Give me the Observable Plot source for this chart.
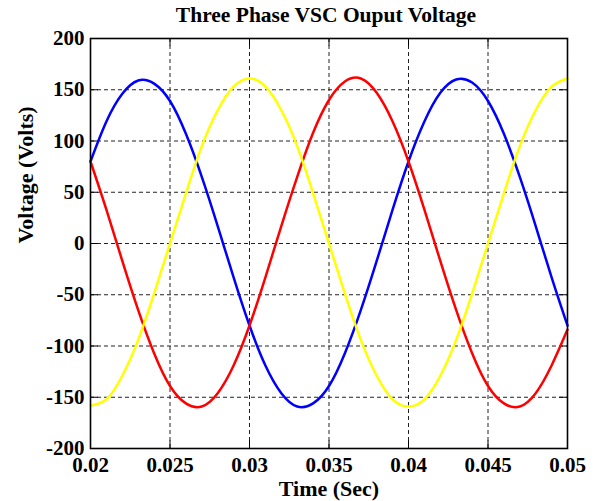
<!DOCTYPE html>
<html>
<head>
<meta charset="utf-8">
<script src="https://cdn.jsdelivr.net/npm/d3@7"></script>
<script src="https://cdn.jsdelivr.net/npm/@observablehq/plot@0.6"></script>
<style>
  body { margin: 0; background: #fff; width: 598px; height: 501px; overflow: hidden; }
  #title { height: 24px; width: 598px; box-sizing: border-box; padding-left: 54px; text-align: center;
    font-family: "Liberation Serif", "Times New Roman", serif; font-weight: bold; font-size: 21.5px;
    line-height: 31px; color: #000; white-space: nowrap; overflow: visible; position: relative; z-index: 1; }
  svg { display: block; }
</style>
</head>
<body>
<div id="title">Three Phase VSC Ouput Voltage</div>
<div id="chart"></div>
<script>
// time samples (seconds)
const time = [0.020,0.021,0.022,0.023,0.024,0.025,0.026,0.027,0.028,0.029,
              0.030,0.031,0.032,0.033,0.034,0.035,0.036,0.037,0.038,0.039,
              0.040,0.041,0.042,0.043,0.044,0.045,0.046,0.047,0.048,0.049,0.050];
// phase voltages (volts)
const blue   = [80,119,146,159,156,139,107,65,17,-33,
                -80,-119,-146,-159,-156,-139,-107,-65,-17,33,
                80,119,147,160,157,139,107,65,17,-33,-80];
const red    = [80,33,-17,-65,-107,-139,-156,-159,-146,-119,
                -80,-33,17,65,108,140,158,161,147,119,
                80,33,-17,-65,-107,-139,-156,-159,-146,-119,-84];
const yellow = [-158,-152,-129,-94,-49,0,49,95,130,153,
                161,153,130,95,49,0,-49,-94,-129,-152,
                -159,-152,-129,-94,-49,0,49,95,130,153,161];
const xTicks = [0.02,0.025,0.03,0.035,0.04,0.045,0.05];
const yTicks = [-200,-150,-100,-50,0,50,100,150,200];
const seriesNames = ["Phase A","Phase B","Phase C"];
const seriesColors = ["#0000ff","#ff0000","#ffff00"];

const rows = [];
[blue, red, yellow].forEach((vals, s) => {
  vals.forEach((v, i) => rows.push({t: time[i], v, series: seriesNames[s]}));
});

const font = '"Liberation Serif", "Times New Roman", serif';
const gridStyle = {stroke: "#222", strokeOpacity: 1, strokeDasharray: "4,3", strokeWidth: 1};
const chart = Plot.plot({
  width: 598,
  height: 477,
  marginTop: 14,
  marginBottom: 53,
  marginLeft: 90,
  marginRight: 31,
  style: {fontFamily: font, fontWeight: "bold", fontSize: "21px", color: "#000", background: "transparent"},
  x: {domain: [0.02, 0.05], ticks: xTicks, tickFormat: d => String(d), label: null},
  y: {domain: [-200, 200], ticks: yTicks, tickFormat: d => String(d), label: null},
  color: {domain: seriesNames, range: seriesColors},
  marks: [
    Plot.gridX(xTicks, gridStyle),
    Plot.gridY(yTicks, gridStyle),
    // inside tick marks (MATLAB style) on all four sides
    Plot.ruleX(xTicks, {x: d => d, y1: -200, y2: -192.5, stroke: "#000"}),
    Plot.ruleX(xTicks, {x: d => d, y1: 200, y2: 192.5, stroke: "#000"}),
    Plot.ruleY(yTicks, {y: d => d, x1: 0.02, x2: 0.0205, stroke: "#000"}),
    Plot.ruleY(yTicks, {y: d => d, x1: 0.05, x2: 0.0495, stroke: "#000"}),
    Plot.line(rows, {x: "t", y: "v", z: "series", stroke: "series", strokeWidth: 2.5, curve: "natural"}),
    Plot.frame({stroke: "#000", strokeWidth: 1.6}),
    Plot.axisX(xTicks, {tickSize: 0, tickPadding: 9, tickFormat: d => String(d), fontSize: 21, fontWeight: "bold", label: null}),
    Plot.axisY(yTicks, {tickSize: 0, tickPadding: 6, tickFormat: d => String(d), fontSize: 21, fontWeight: "bold", label: null}),
    Plot.text(["Time (Sec)"], {frameAnchor: "bottom", lineAnchor: "middle", dy: 40, fontSize: 22, fontWeight: "bold", fill: "#000"}),
    Plot.text(["Voltage (Volts)"], {frameAnchor: "left", lineAnchor: "middle", dx: -65, rotate: -90, fontSize: 22, fontWeight: "bold", fill: "#000"})
  ]
});
document.getElementById("chart").appendChild(chart);
</script>
</body>
</html>
